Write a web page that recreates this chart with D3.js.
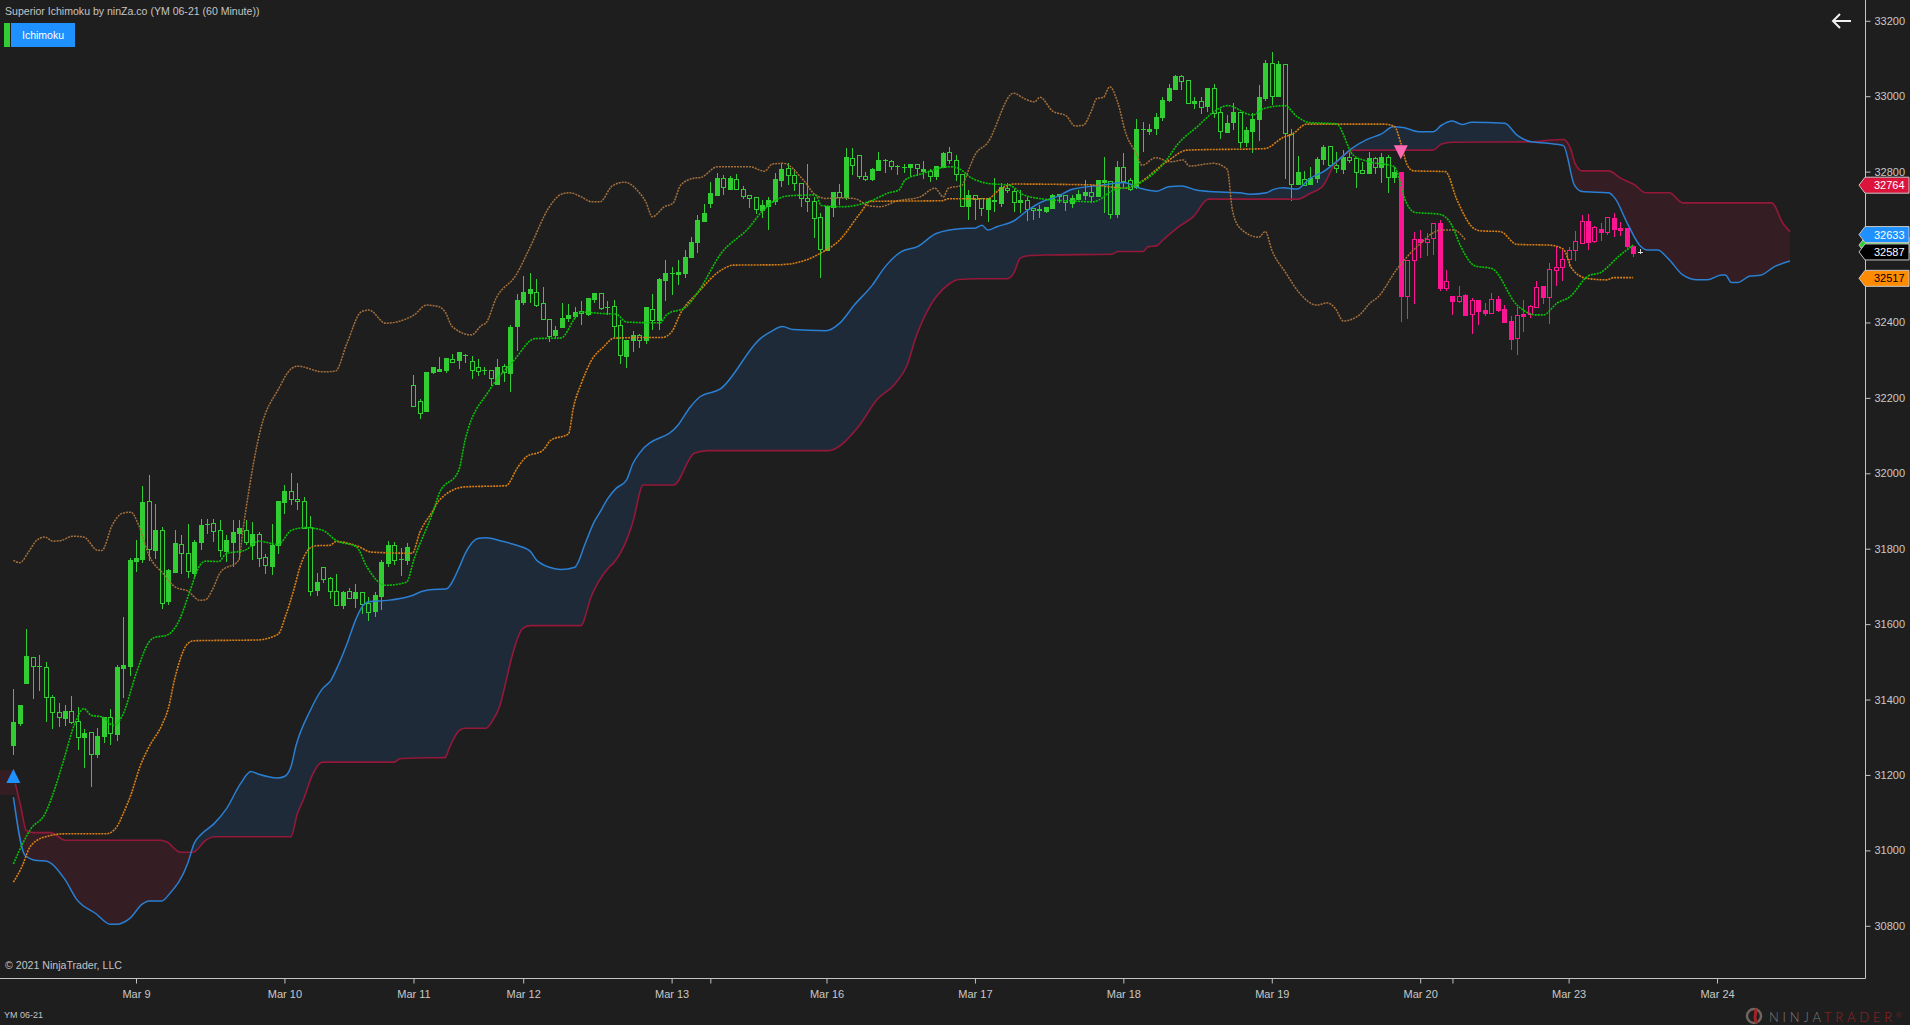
<!DOCTYPE html>
<html>
<head>
<meta charset="utf-8">
<title>Superior Ichimoku</title>
<script src="https://cdn.jsdelivr.net/npm/d3@7"></script>
<style>
  html, body { margin: 0; padding: 0; background: #1e1e1e; overflow: hidden; }
  svg { display: block; font-family: "Liberation Sans", Arial, sans-serif; }
</style>
</head>
<body>
<div id="chart"></div>
<script>
// open, high, low, close, one row per 60 minute bar
const ohlc = [
[31340,31428,31253,31279],[31385,31385,31330,31338],[31515,31587,31445,31445],[31490,31512,31402,31512],[31488,31518,31422,31488],
[31407,31499,31341,31485],[31367,31412,31322,31408],[31354,31391,31327,31366],[31369,31385,31330,31351],[31341,31409,31335,31369],
[31301,31380,31266,31342],[31311,31322,31218,31300],[31256,31313,31169,31313],[31303,31324,31245,31255],[31353,31353,31285,31303],
[31310,31375,31279,31354],[31486,31491,31290,31308],[31491,31619,31404,31483],[31770,31775,31462,31489],[31775,31823,31738,31767],
[31925,31966,31763,31773],[31799,31995,31767,31926],[31849,31918,31772,31796],[31657,31857,31641,31849],[31743,31747,31651,31661],
[31815,31849,31738,31738],[31789,31836,31734,31813],[31741,31866,31722,31788],[31819,31823,31725,31735],[31864,31879,31796,31818],
[31865,31879,31838,31865],[31848,31878,31818,31867],[31797,31876,31778,31849],[31822,31836,31764,31794],[31844,31876,31751,31818],
[31855,31876,31770,31842],[31818,31876,31810,31850],[31838,31871,31770,31810],[31775,31844,31751,31840],[31756,31786,31734,31777],
[31809,31866,31730,31754],[31926,31926,31786,31809],[31953,31969,31892,31925],[31933,32000,31916,31953],[31926,31973,31902,31933],
[31855,31937,31855,31926],[31689,31886,31674,31857],[31711,31735,31674,31690],[31720,31751,31710,31751],[31689,31726,31666,31721],
[31650,31733,31649,31689],[31685,31689,31640,31650],[31670,31695,31666,31687],[31685,31706,31643,31669],[31653,31684,31628,31684],
[31633,31672,31609,31655],[31677,31686,31620,31635],[31765,31770,31637,31674],[31809,31820,31751,31762],[31771,31818,31757,31809],
[31772,31802,31727,31772],[31804,31814,31757,31770],[32179,32260,32179,32233],[32160,32196,32145,32193],[32268,32268,32165,32165],
[32282,32282,32263,32268],[32276,32308,32268,32271],[32306,32306,32266,32274],[32296,32316,32292,32303],[32321,32321,32276,32300],
[32313,32316,32292,32313],[32274,32311,32250,32299],[32270,32303,32258,32281],[32273,32281,32260,32273],[32253,32273,32231,32273],
[32282,32303,32237,32237],[32269,32290,32242,32284],[32388,32393,32215,32266],[32459,32475,32324,32390],[32481,32523,32446,32454],
[32489,32531,32451,32478],[32446,32515,32441,32481],[32409,32494,32406,32451],[32364,32409,32348,32409],[32380,32391,32356,32367],
[32412,32451,32388,32388],[32420,32449,32401,32412],[32428,32441,32412,32417],[32424,32457,32393,32430],[32465,32465,32417,32422],
[32478,32478,32451,32462],[32438,32478,32433,32478],[32441,32457,32420,32441],[32391,32459,32356,32443],[32314,32406,32290,32393],
[32353,32353,32279,32311],[32367,32377,32321,32353],[32353,32369,32332,32366],[32441,32441,32343,32353],[32406,32475,32380,32437],
[32515,32518,32380,32406],[32531,32566,32457,32512],[32531,32547,32473,32531],[32534,32566,32499,32528],[32573,32592,32518,32531],
[32613,32626,32571,32573],[32672,32685,32584,32613],[32690,32714,32666,32669],[32743,32772,32703,32717],[32783,32796,32738,32738],
[32758,32791,32738,32782],[32783,32788,32751,32754],[32754,32794,32751,32780],[32736,32762,32727,32753],[32731,32737,32704,32737],
[32700,32732,32687,32732],[32711,32725,32677,32698],[32725,32733,32645,32709],[32780,32796,32711,32722],[32806,32823,32759,32777],
[32790,32823,32764,32809],[32769,32807,32748,32790],[32729,32769,32706,32769],[32721,32820,32693,32729],[32678,32733,32624,32721],
[32595,32690,32518,32679],[32709,32709,32590,32591],[32746,32746,32680,32705],[32733,32767,32711,32745],[32839,32862,32725,32733],
[32817,32862,32791,32835],[32789,32843,32781,32843],[32781,32800,32775,32789],[32807,32810,32775,32780],[32831,32852,32804,32804],
[32831,32833,32796,32831],[32814,32831,32804,32827],[32815,32817,32791,32815],[32812,32820,32796,32812],[32820,32820,32786,32812],
[32809,32819,32788,32819],[32807,32828,32780,32802],[32788,32807,32772,32801],[32814,32814,32778,32788],[32849,32852,32812,32812],
[32830,32865,32820,32851],[32795,32844,32775,32830],[32708,32793,32708,32793],[32738,32751,32672,32708],[32727,32737,32672,32737],
[32704,32729,32682,32729],[32729,32729,32667,32701],[32721,32783,32693,32726],[32758,32770,32706,32717],[32750,32770,32743,32756],
[32719,32754,32693,32749],[32724,32751,32690,32719],[32702,32733,32670,32726],[32699,32704,32672,32704],[32702,32711,32677,32697],
[32706,32706,32690,32695],[32738,32741,32703,32703],[32740,32740,32717,32735],[32719,32737,32695,32737],[32729,32738,32703,32717],
[32741,32751,32727,32727],[32745,32778,32725,32738],[32736,32764,32717,32745],[32777,32777,32735,32735],[32777,32839,32690,32772],
[32688,32775,32674,32775],[32812,32828,32677,32688],[32776,32849,32759,32811],[32753,32783,32748,32777],[32913,32939,32755,32760],
[32913,32932,32853,32913],[32913,32925,32897,32908],[32945,32955,32897,32916],[32990,32998,32934,32945],[33022,33032,32985,32990],
[33053,33056,33019,33019],[33041,33056,33016,33053],[32981,33042,32981,33042],[32987,32999,32966,32981],[32972,32998,32953,32986],
[33023,33023,32958,32975],[32956,33032,32942,33023],[32907,32967,32886,32957],[32928,32950,32905,32905],[32958,32982,32910,32931],
[32879,32957,32863,32957],[32910,32919,32866,32878],[32939,32955,32849,32908],[32998,33030,32882,32939],[33088,33095,32987,32995],
[33000,33117,32977,33087],[33085,33093,32998,33000],[32902,33085,32781,33085],[32768,32912,32723,32899],[32799,32841,32766,32766],
[32765,32801,32765,32780],[32782,32813,32767,32767],[32833,32839,32770,32782],[32865,32870,32817,32833],[32817,32867,32817,32867],
[32809,32853,32796,32817],[32838,32857,32794,32806],[32831,32853,32823,32840],[32800,32835,32756,32835],[32796,32826,32794,32803],
[32835,32852,32794,32797],[32811,32839,32794,32835],[32840,32849,32770,32813],[32786,32844,32743,32840],[32799,32813,32771,32786],
[32799,32799,32402,32471],[32471,32566,32409,32566],[32565,32640,32450,32620],[32621,32645,32572,32614],[32614,32636,32577,32620],
[32623,32663,32579,32663],[32664,32672,32483,32492],[32492,32539,32483,32509],[32470,32470,32420,32458],[32458,32497,32451,32469],
[32472,32475,32417,32420],[32423,32465,32369,32459],[32459,32459,32393,32430],[32432,32451,32417,32425],[32426,32478,32422,32461],
[32461,32470,32428,32433],[32437,32446,32402,32402],[32404,32417,32327,32356],[32358,32441,32314,32421],[32422,32459,32375,32417],
[32423,32446,32412,32443],[32442,32511,32442,32493],[32496,32496,32449,32468],[32468,32557,32397,32541],[32540,32603,32497,32546],
[32546,32592,32511,32567],[32567,32599,32546,32591],[32591,32643,32562,32615],[32611,32685,32610,32668],[32669,32687,32592,32614],
[32615,32656,32612,32652],[32647,32664,32616,32641],[32639,32679,32633,32679],[32676,32689,32627,32648],[32650,32666,32629,32645],
[32650,32650,32597,32603],[32603,32603,32573,32584],[32587,32596,32581,32587]
];

// the trend flips to bearish on this bar, the last bar is still forming
const firstBearBar = 215;
const liveBar = 252;

// [bar, price]
const tenkan = [[0,30964],[1.7,31027],[2.7,31057],[4.9,31097],[6.5,31168],[7.7,31234],[9.6,31340],[10.9,31376],[12.1,31358],[13.7,31354],[15.6,31331],[16.9,31358],[19.1,31473],[21,31552],[21.9,31565],[23.7,31570],[25.8,31614],[27.3,31685],[28.9,31756],[29.8,31767],[31.8,31766],[33,31787],[35.9,31796],[38,31820],[41,31811],[43.1,31849],[45.3,31856],[47.9,31849],[50,31822],[53.2,31804],[54.8,31751],[57.7,31703],[60.9,31711],[62.1,31773],[65,31897],[66,31947],[69,32007],[70,32088],[73.8,32221],[77.6,32300],[80.8,32357],[84.9,32359],[86.8,32406],[87.7,32428],[90.9,32424],[93.4,32422],[95,32401],[100.2,32399],[101.2,32420],[104.3,32442],[106,32478],[109.7,32584],[113.9,32650],[116,32694],[118.3,32726],[120.2,32736],[124.3,32738],[125.2,32710],[128.7,32707],[132.5,32720],[135.7,32744],[137.2,32751],[138.2,32778],[140.7,32794],[145.2,32813],[146.4,32809],[148.6,32782],[150.9,32769],[154.3,32764],[156.6,32738],[160.3,32726],[164.1,32722],[167.3,32720],[170.5,32751],[173.7,32763],[178.7,32831],[180.3,32870],[183.7,32923],[185.6,32953],[188.2,32975],[192,32950],[193.9,32968],[197,32975],[198.9,32946],[200.9,32930],[205,32927],[207.6,32844],[209.7,32828],[214,32813],[214.6,32791],[215.4,32738],[217.2,32692],[221,32687],[222.9,32658],[224.2,32605],[226.5,32550],[229.1,32543],[233,32446],[236,32420],[237.1,32420],[239.2,32451],[241.2,32468],[244.1,32524],[245.9,32532],[248.8,32576],[251,32605]];

const kijun = [[0,30916],[1.4,30960],[2.4,31004],[3.6,31026],[5.2,31037],[8,31044],[14.4,31044],[16,31062],[17,31097],[18.2,31147],[19.7,31226],[21,31274],[23,31332],[24,31376],[25,31455],[27,31548],[28,31556],[37.8,31558],[41,31573],[42.2,31623],[43.5,31694],[44.4,31751],[46,31802],[47,31808],[49.1,31809],[50,31819],[53.3,31807],[55.5,31791],[61.8,31788],[63,31844],[65,31900],[66,31929],[70,31964],[76.3,31967],[78.2,32017],[79.5,32044],[82,32060],[83.3,32088],[86,32104],[86.8,32176],[88,32238],[89.6,32300],[91.5,32336],[93,32358],[97,32360],[100.5,32360],[102,32375],[103.4,32425],[106,32478],[109.7,32539],[111.6,32552],[118.6,32553],[122.4,32563],[125,32583],[128,32618],[131.2,32689],[132.8,32721],[144,32723],[144.8,32728],[151,32728],[152.7,32751],[155,32767],[166.7,32765],[172.4,32756],[173.7,32763],[178.7,32826],[181.9,32857],[193.9,32861],[196.8,32891],[198.3,32901],[200.4,32926],[212.3,32926],[214,32920],[215,32876],[216,32817],[217,32802],[221.9,32800],[223.7,32725],[226,32654],[227.3,32643],[230.4,32641],[233,32607],[238.1,32605],[240.2,32594],[241.5,32543],[243.8,32517],[246.9,32513],[248,32519],[251,32519]];

const chikou = [[0,31769],[1,31763],[2.4,31793],[3.6,31822],[4.9,31831],[6.1,31820],[7.4,31822],[9.2,31833],[10.9,31831],[13,31796],[13.7,31795],[15.3,31862],[16.9,31894],[18.2,31897],[19.4,31863],[21,31783],[23.2,31734],[25.1,31698],[27,31688],[28.9,31663],[29.8,31665],[30.8,31690],[32.1,31738],[34.9,31769],[35.6,31853],[36,31900],[38.4,32123],[41,32221],[43.1,32278],[44.1,32284],[47.9,32269],[49.9,32271],[51.7,32345],[53.9,32428],[55.1,32433],[57.7,32398],[62.1,32420],[64,32446],[65.9,32442],[66.9,32428],[68,32389],[71,32367],[72.6,32393],[73.2,32398],[74.8,32464],[77.9,32526],[80.1,32601],[83,32705],[84.9,32740],[86.2,32744],[88,32733],[89.6,32720],[90.9,32720],[92.8,32762],[94.7,32772],[97,32744],[98,32720],[99,32680],[100.9,32707],[102.2,32716],[103.4,32764],[105.3,32782],[106.6,32785],[109.1,32813],[114.1,32813],[116.4,32801],[117.6,32820],[119.3,32822],[122.4,32778],[124.3,32738],[126,32729],[128.1,32730],[130.2,32729],[132.7,32709],[134.3,32707],[136.9,32722],[140.5,32733],[142.8,32756],[144.1,32733],[144.9,32756],[147,32764],[148,32804],[149,32844],[150.9,32875],[155,33008],[156.6,32994],[158.2,32985],[159.1,32997],[161,32961],[163.2,32947],[164.5,32921],[165.8,32923],[167,32959],[167.9,32994],[168.9,32997],[169.9,33025],[171.1,32985],[172.4,32901],[174,32848],[174.9,32817],[177,32837],[179.3,32826],[181.3,32831],[182.2,32815],[186,32822],[188.1,32806],[188.9,32698],[190.1,32650],[193,32626],[194,32641],[195,32592],[197.2,32531],[199.2,32480],[202,32446],[203.6,32452],[204.8,32438],[206.1,32404],[208.6,32420],[210.2,32451],[211.5,32468],[214.3,32539],[217.5,32601],[221.3,32645],[223.2,32645],[225,32619]];

const senkouA = [[0,31141],[1.8,30987],[3.6,30973],[5,30972],[7.9,30925],[9.9,30868],[12.8,30832],[15,30804],[16,30804],[18,30819],[20,30858],[21,30866],[23,30866],[24.2,30885],[27,30965],[28,31018],[29.2,31044],[31.1,31071],[33,31110],[35.2,31177],[36.8,31209],[38,31202],[40.9,31192],[42,31196],[43,31221],[43.8,31278],[46,31371],[47.9,31429],[49.2,31451],[50.1,31482],[51.7,31548],[53.1,31614],[54.2,31650],[55.2,31660],[58,31663],[61.8,31676],[63.4,31687],[65,31692],[67,31693],[69.1,31751],[70,31787],[72.1,31828],[73.2,31829],[75.7,31820],[77.6,31811],[80.1,31793],[81.1,31769],[83.9,31747],[84.9,31745],[87,31751],[88.7,31818],[90,31871],[90.9,31897],[92.1,31933],[93.4,31960],[95,31982],[96,32026],[97,32053],[103,32128],[104.9,32176],[106.4,32203],[109.5,32223],[115.8,32358],[117.3,32375],[119.2,32389],[120.8,32381],[125.9,32378],[128.1,32399],[130.3,32446],[133.1,32499],[135.1,32548],[137.6,32588],[140.1,32601],[143,32636],[147.1,32649],[149,32650],[150.1,32658],[151,32645],[152.4,32654],[155,32669],[157.2,32698],[159.4,32720],[161.6,32733],[164.1,32753],[168.6,32764],[172,32771],[174.6,32756],[177.2,32748],[179,32760],[181,32762],[183.3,32751],[185.4,32747],[190.1,32744],[191.6,32740],[194.2,32744],[195.3,32753],[196.8,32757],[198.9,32754],[200.9,32782],[203,32800],[205.6,32835],[207.2,32859],[209.7,32885],[212,32900],[213.8,32919],[215.4,32917],[217.8,32906],[220,32906],[221.3,32923],[223,32934],[224.5,32925],[226,32931],[231.1,32928],[233,32897],[235.2,32879],[237.8,32875],[240.2,32869],[241.9,32764],[243.1,32747],[247.2,32744],[248.2,32729],[250.1,32663],[252,32605],[253.2,32592],[254.8,32592],[256.4,32570],[258.7,32526],[260.9,32513],[262.5,32513],[264.7,32526],[265.3,32526],[266.2,32506],[267.2,32506],[269.1,32523],[270.7,32525],[272.9,32548],[275.3,32563]];

const senkouB = [[0.3,31177],[1.1,31120],[2,31053],[3,31047],[5.8,31047],[8,31027],[22.9,31027],[23.8,31022],[25.9,30995],[27.8,30995],[29.8,31027],[31.1,31036],[43,31036],[44,31097],[45,31137],[46.3,31199],[47.9,31234],[59,31234],[59.9,31243],[62.1,31245],[66.9,31246],[67.5,31270],[69.1,31318],[70,31324],[73.2,31324],[74.1,31340],[75.4,31384],[76.3,31446],[77.3,31517],[78.9,31588],[80.1,31596],[87.9,31596],[89.6,31676],[92.1,31747],[93.1,31764],[95,31822],[96,31871],[97.6,31969],[102.3,31969],[105.5,32053],[107.6,32060],[126.2,32060],[131,32125],[133.8,32195],[136.6,32237],[138.5,32287],[139.8,32358],[142,32442],[143,32468],[145,32502],[146.5,32514],[149.6,32516],[154,32516],[155,32530],[156,32570],[157.2,32577],[160.3,32579],[170.2,32581],[171.2,32588],[175,32588],[175.9,32601],[177.1,32603],[178.1,32618],[180.6,32654],[182.8,32680],[185.2,32727],[199,32727],[200.9,32742],[203,32764],[204.5,32813],[206.6,32848],[207.7,32857],[220,32857],[221.3,32873],[223,32878],[235.2,32879],[238.4,32884],[240.2,32885],[241.3,32861],[242,32822],[243.1,32802],[247.2,32802],[249.1,32782],[251.3,32764],[252.9,32744],[256.6,32744],[258.7,32717],[272.5,32717],[274.2,32663],[275.3,32641]];

// cloud still open left of the first bar
const leadCloud = [31147, 31213];

// 32600 sits behind the price tags, so it gets no tick
const priceTicks = [30800,31000,31200,31400,31600,31800,32000,32200,32400,32800,33000,33200];
const dateTickBars = [19,42,62,79,102,108,126,149,172,195,218,223,241,264];
const dateTickLabels = ["Mar 9","Mar 10","Mar 11","Mar 12","Mar 13","","Mar 16","Mar 17","Mar 18","Mar 19","Mar 20","","Mar 23","Mar 24"];

// [bar, price of the tip]
const buySignal = [0, 31216];
const sellSignal = [215, 32833];

const priceTags = [
  { value: 32605, fill: "#32cd32", text: "", ink: "#fff" },
  { value: 32633, fill: "#1e90ff", text: "32633", ink: "#fff" },
  { value: 32587, fill: "#000000", text: "32587", ink: "#fff" },
  { value: 32517, fill: "#ff8c00", text: "32517", ink: "#000" },
  { value: 32764, fill: "#dc143c", text: "32764", ink: "#fff" }
];

const width = 1910, height = 1025;
const axisX = 1865, axisY = 978;
const bull = "#32cd32", bear = "#ff1493", live = "#d8d8d8", axisInk = "#c4c4c4";

const x = d3.scaleLinear().domain([0, 252]).range([13.4, 1639.6]);
const y = d3.scaleLinear().domain([30800, 33000]).range([925.8, 96.2]);

const svg = d3.select("#chart").append("svg")
  .attr("width", width).attr("height", height)
  .style("background", "#1e1e1e");
const defs = svg.append("defs");

defs.append("clipPath").attr("id", "plot")
  .append("rect").attr("width", axisX).attr("height", axisY);

// cloud: each colour shows only where its own line is on top
const smooth = d3.curveMonotoneX;
const below = d3.area().x(d => x(d[0])).y0(axisY).y1(d => y(d[1])).curve(smooth);
const above = d3.area().x(d => x(d[0])).y0(0).y1(d => y(d[1])).curve(smooth);
defs.append("clipPath").attr("id", "underA").append("path").attr("d", below(senkouA));
defs.append("clipPath").attr("id", "underB").append("path").attr("d", below(senkouB));

const plot = svg.append("g").attr("clip-path", "url(#plot)");

plot.append("rect")
  .attr("x", 0).attr("width", x(0.3))
  .attr("y", y(leadCloud[1])).attr("height", y(leadCloud[0]) - y(leadCloud[1]))
  .attr("fill", "#351e23");
plot.append("path").attr("d", above(senkouB)).attr("clip-path", "url(#underA)").attr("fill", "#1f2a38");
plot.append("path").attr("d", above(senkouA)).attr("clip-path", "url(#underB)").attr("fill", "#351e23");

// candles, hollow when the close is above the open
function barColor(i) {
  if (i === liveBar) return live;
  return i >= firstBearBar ? bear : bull;
}
const candles = plot.append("g").attr("shape-rendering", "crispEdges");
ohlc.forEach(function (d, i) {
  const [open, high, low, close] = d;
  const cx = Math.round(x(i));
  const top = Math.round(y(Math.max(open, close)));
  const bottom = Math.round(y(Math.min(open, close)));
  const c = barColor(i);
  candles.append("line").attr("x1", cx + 0.5).attr("x2", cx + 0.5)
    .attr("y1", y(high)).attr("y2", top).attr("stroke", c);
  candles.append("line").attr("x1", cx + 0.5).attr("x2", cx + 0.5)
    .attr("y1", bottom).attr("y2", y(low)).attr("stroke", c);
  if (open === close) {
    // doji, only a dash across the wick
    candles.append("line").attr("x1", cx - 2).attr("x2", cx + 3)
      .attr("y1", top + 0.5).attr("y2", top + 0.5).attr("stroke", c);
  } else {
    candles.append("rect")
      .attr("x", cx - 2 + 0.5).attr("width", 4)
      .attr("y", top + 0.5).attr("height", Math.max(bottom - top, 1))
      .attr("fill", close > open ? "none" : c)
      .attr("stroke", c);
  }
});

const line = d3.line().x(d => x(d[0])).y(d => y(d[1])).curve(smooth);
function drawLine(data, color, w, dash) {
  plot.append("path").datum(data)
    .attr("d", line).attr("fill", "none")
    .attr("stroke", color).attr("stroke-width", w)
    .attr("stroke-dasharray", dash);
}
drawLine(senkouB, "#94183a", 1.6, null);
drawLine(senkouA, "#2a7fd2", 1.5, null);
drawLine(chikou, "#a5703c", 1.5, "2 1");
drawLine(kijun, "#d97f14", 1.6, "2 1");
drawLine(tenkan, "#06c406", 1.6, "2 1");

// signal triangles
plot.append("path")
  .attr("d", d3.line()([[x(buySignal[0]), y(buySignal[1])], [x(buySignal[0]) + 7, y(buySignal[1]) + 14], [x(buySignal[0]) - 7, y(buySignal[1]) + 14]]))
  .attr("fill", "#1e90ff");
plot.append("path")
  .attr("d", d3.line()([[x(sellSignal[0]), y(sellSignal[1])], [x(sellSignal[0]) + 7, y(sellSignal[1]) - 14], [x(sellSignal[0]) - 7, y(sellSignal[1]) - 14]]))
  .attr("fill", "#ff69b4");

// axes
const yAxis = d3.axisRight(y).tickValues(priceTicks).tickSize(5).tickPadding(4).tickFormat(d3.format("d"));
const yG = svg.append("g").attr("transform", `translate(${axisX + 0.5},0)`).call(yAxis);
yG.select(".domain").remove();
svg.append("line").attr("x1", axisX + 0.5).attr("x2", axisX + 0.5).attr("y1", 0).attr("y2", axisY + 0.5).attr("stroke", axisInk);
yG.selectAll("line").attr("stroke", axisInk);
yG.selectAll("text").attr("fill", "#c8c8c8").style("font-size", "11px").style("font-family", "Liberation Sans, Arial, sans-serif");

const tickX = d3.scaleOrdinal().domain(dateTickBars.map(String)).range(dateTickLabels);
const xAxis = d3.axisBottom(x).tickValues(dateTickBars).tickSize(5).tickPadding(7).tickFormat(d => tickX(String(d)));
const xG = svg.append("g").attr("transform", `translate(0,${axisY + 0.5})`).call(xAxis);
xG.select(".domain").remove();
svg.append("line").attr("x1", 0).attr("x2", axisX + 0.5).attr("y1", axisY + 0.5).attr("y2", axisY + 0.5).attr("stroke", axisInk);
xG.selectAll("line").attr("stroke", axisInk);
xG.selectAll("text").attr("fill", "#c8c8c8").style("font-size", "11px").style("font-family", "Liberation Sans, Arial, sans-serif");

// price tags on the axis
const tags = svg.append("g");
priceTags.forEach(function (t) {
  const cy = y(t.value);
  tags.append("path")
    .attr("d", `M${axisX - 6},${cy} L${axisX},${cy - 8} H${width - 1} V${cy + 8} H${axisX} Z`)
    .attr("fill", t.fill).attr("stroke", "#c8c8c8");
  if (t.text) {
    tags.append("text").attr("x", axisX + 9).attr("y", cy + 4)
      .attr("fill", t.ink).style("font-size", "11px").text(t.text);
  }
});

// header and footer texts
svg.append("text").attr("x", 5).attr("y", 15).attr("fill", "#c4c4c4").style("font-size", "10.55px")
  .text("Superior Ichimoku by ninZa.co (YM 06-21 (60 Minute))");
svg.append("rect").attr("x", 4).attr("y", 23).attr("width", 6).attr("height", 24).attr("fill", bull);
svg.append("rect").attr("x", 11).attr("y", 23).attr("width", 64).attr("height", 24).attr("fill", "#1e90ff");
svg.append("text").attr("x", 43).attr("y", 39).attr("text-anchor", "middle").attr("fill", "#fff").style("font-size", "10.5px").text("Ichimoku");
svg.append("text").attr("x", 5).attr("y", 969).attr("fill", "#c4c4c4").style("font-size", "10.6px").text("\u00a9 2021 NinjaTrader, LLC");
svg.append("text").attr("x", 4).attr("y", 1018).attr("fill", "#c4c4c4").style("font-size", "9px").text("YM 06-21");

// back arrow, top right
svg.append("path").attr("d", "M1833,21 H1851 M1840,14 L1833,21 L1840,28")
  .attr("fill", "none").attr("stroke", "#f0f0f0").attr("stroke-width", 2);

// NinjaTrader mark
const mark = svg.append("g").attr("transform", "translate(1754,1016)");
mark.append("circle").attr("r", 7).attr("fill", "none").attr("stroke", "#6e6660").attr("stroke-width", 2.5);
mark.append("path").attr("d", "M1,-7 C4,-3 -2,1 3,7").attr("fill", "none").attr("stroke", "#a52226").attr("stroke-width", 3);
const brand = svg.append("text").attr("x", 1769).attr("y", 1022).style("font-size", "13px").style("font-family", "Lato, Liberation Sans, sans-serif").style("font-weight", "300").style("letter-spacing", "3.8px");
brand.append("tspan").attr("fill", "#7a7a7a").text("NINJA");
brand.append("tspan").attr("fill", "#9c2226").text("TRADER");
brand.append("tspan").attr("fill", "#9c2226").style("font-size", "7px").style("letter-spacing", "0").attr("dy", -4).text("\u00ae");
</script>
</body>
</html>
